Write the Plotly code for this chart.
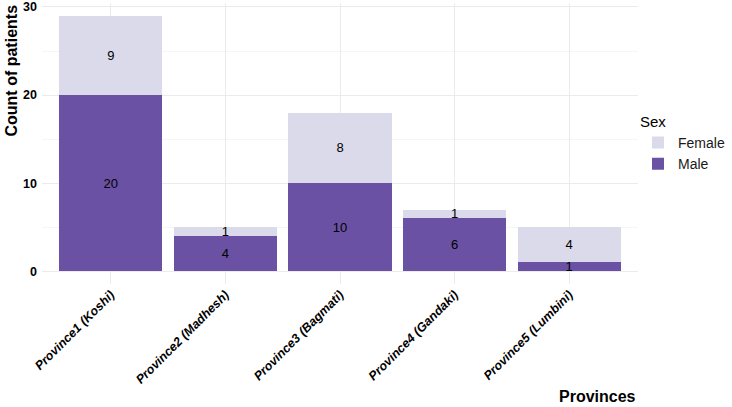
import plotly.graph_objects as go

provinces = ["Province1 (Koshi)", "Province2 (Madhesh)", "Province3 (Bagmati)",
             "Province4 (Gandaki)", "Province5 (Lumbini)"]
male = [20, 4, 10, 6, 1]
female = [9, 1, 8, 1, 4]
y_ticks = [0, 10, 20, 30]

MALE_COLOR = "#6a51a3"
FEMALE_COLOR = "#dadaeb"
FONT = "Liberation Sans, Arial, sans-serif"

fig = go.Figure()
fig.add_trace(go.Bar(
    x=provinces, y=male, name="Male", marker=dict(color=MALE_COLOR, line=dict(width=0)),
    text=[str(v) for v in male], textposition="inside", insidetextanchor="middle",
    textangle=0, constraintext="none", cliponaxis=False,
    textfont=dict(family=FONT, size=13, color="black"),
))
fig.add_trace(go.Bar(
    x=provinces, y=female, name="Female", marker=dict(color=FEMALE_COLOR, line=dict(width=0)),
    text=[str(v) for v in female], textposition="inside", insidetextanchor="middle",
    textangle=0, constraintext="none", cliponaxis=False,
    textfont=dict(family=FONT, size=13, color="black"),
))

ymax = max(m + f for m, f in zip(male, female))
pad = ymax * 0.05

fig.update_layout(
    width=732, height=407,
    barmode="stack", bargap=0.1,
    plot_bgcolor="white", paper_bgcolor="white",
    margin=dict(l=42, r=94, t=3, b=123, autoexpand=False),
    font=dict(family=FONT, color="black"),
    legend=dict(
        title=dict(text="Sex", font=dict(size=15, color="black")),
        traceorder="reversed", x=1.0, xanchor="left", y=0.5, yanchor="middle",
        font=dict(size=14, color="#1a1a1a"), itemwidth=30,
    ),
    xaxis=dict(
        type="category", range=[-0.6, len(provinces) - 0.4], automargin=False,
        tickangle=-45, ticks="", showline=False, zeroline=False,
        showgrid=True, gridcolor="#ebebeb", gridwidth=1,
        tickfont=dict(size=12.5, color="black", weight="bold", style="italic"),
    ),
    yaxis=dict(
        range=[-pad, ymax + pad], tickvals=y_ticks, ticks="", showline=False,
        automargin=False,
        zeroline=False, showgrid=True, gridcolor="#ebebeb", gridwidth=1,
        minor=dict(dtick=5, showgrid=True, gridcolor="#f5f5f5", gridwidth=0.5),
        tickfont=dict(size=12.5, color="black", weight="bold"),
        ticklabelstandoff=4,
    ),
    annotations=[
        dict(text="<b>Count of patients</b>", xref="paper", yref="paper",
             x=-42 / 596, y=1, xanchor="left", yanchor="top", textangle=-90,
             showarrow=False, font=dict(size=16, color="black")),
        dict(text="<b>Provinces</b>", xref="paper", yref="paper",
             x=1, y=-0.4, xanchor="right", yanchor="middle",
             showarrow=False, font=dict(size=16, color="black")),
    ],
)

fig.write_html("out.html", config={"displayModeBar": False},
               post_script="document.body.style.margin='0';")
